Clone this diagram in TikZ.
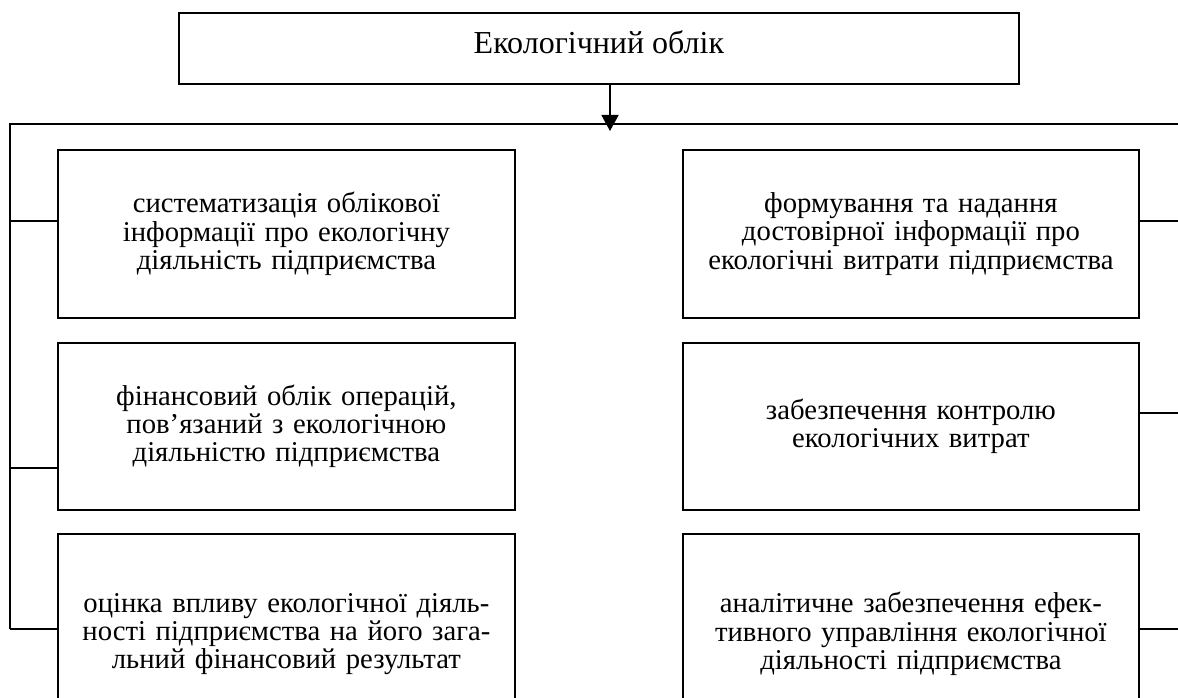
\documentclass[tikz,border=0pt]{standalone}
\usepackage{fontspec}
\setmainfont{Liberation Serif}
\usetikzlibrary{arrows.meta}
\begin{document}
\begin{tikzpicture}[x=1pt,y=-1pt,
  every node/.style={font=\fontsize{28.7}{28.3}\selectfont},
  box/.style={draw,line width=1.8pt,inner sep=0pt,align=center,anchor=north west},
  conn/.style={line width=1.8pt},
  ]
\useasboundingbox (0,0) rectangle (1178,698);
\clip (0,0) rectangle (1178,698);
% top box
\node[box,minimum width=840pt,minimum height=71pt,text height=22pt,text depth=11pt,
  font=\fontsize{32}{34}\selectfont] (top) at (178,12) {Екологічний облік};
% left boxes
\node[box,minimum width=457pt,minimum height=168pt,text width=430pt] (l1) at (57,149)
  {систематизація облікової\\інформації про екологічну\\діяльність підприємства};
\node[box,minimum width=457pt,minimum height=167pt,text width=430pt] (l2) at (57,342)
  {фінансовий облік операцій,\\пов’язаний з екологічною\\діяльністю підприємства};
\node[box,minimum width=457pt,minimum height=200pt,text width=430pt] (l3) at (57,533)
  {оцінка впливу екологічної діяль-\\ності підприємства на його зага-\\льний фінансовий результат};
% right boxes
\node[box,minimum width=456pt,minimum height=168pt,text width=430pt] (r1) at (682,149)
  {формування та надання\\достовірної інформації про\\екологічні витрати підприємства};
\node[box,minimum width=456pt,minimum height=167pt,text width=430pt] (r2) at (682,342)
  {забезпечення контролю\\екологічних витрат};
\node[box,minimum width=456pt,minimum height=200pt,text width=430pt] (r3) at (682,533)
  {аналітичне забезпечення ефек-\\тивного управління екологічної\\діяльності підприємства};
% bus coordinates
\coordinate (busL) at (10,124);
\coordinate (busR) at (1178,124);
\coordinate (busM) at (610,131);
\coordinate (lc1) at (10,221);
\coordinate (lc2) at (10,468);
\coordinate (lc3) at (10,629);
\coordinate (rc1) at (1178,221);
\coordinate (rc2) at (1178,413);
\coordinate (rc3) at (1178,629);
% connectors
\draw[conn,-{Triangle[length=16pt,width=17pt]}] (top.south -| busM) -- (busM);
\draw[conn] (busR) -- (busL) -- (lc3);
\draw[conn] (lc1) -- (lc1 -| l1.west);
\draw[conn] (lc2) -- (lc2 -| l2.west);
\draw[conn] (lc3) -- (lc3 -| l3.west);
\draw[conn] (rc1 -| r1.east) -- (rc1);
\draw[conn] (rc2 -| r2.east) -- (rc2);
\draw[conn] (rc3 -| r3.east) -- (rc3);
\end{tikzpicture}
\end{document}
